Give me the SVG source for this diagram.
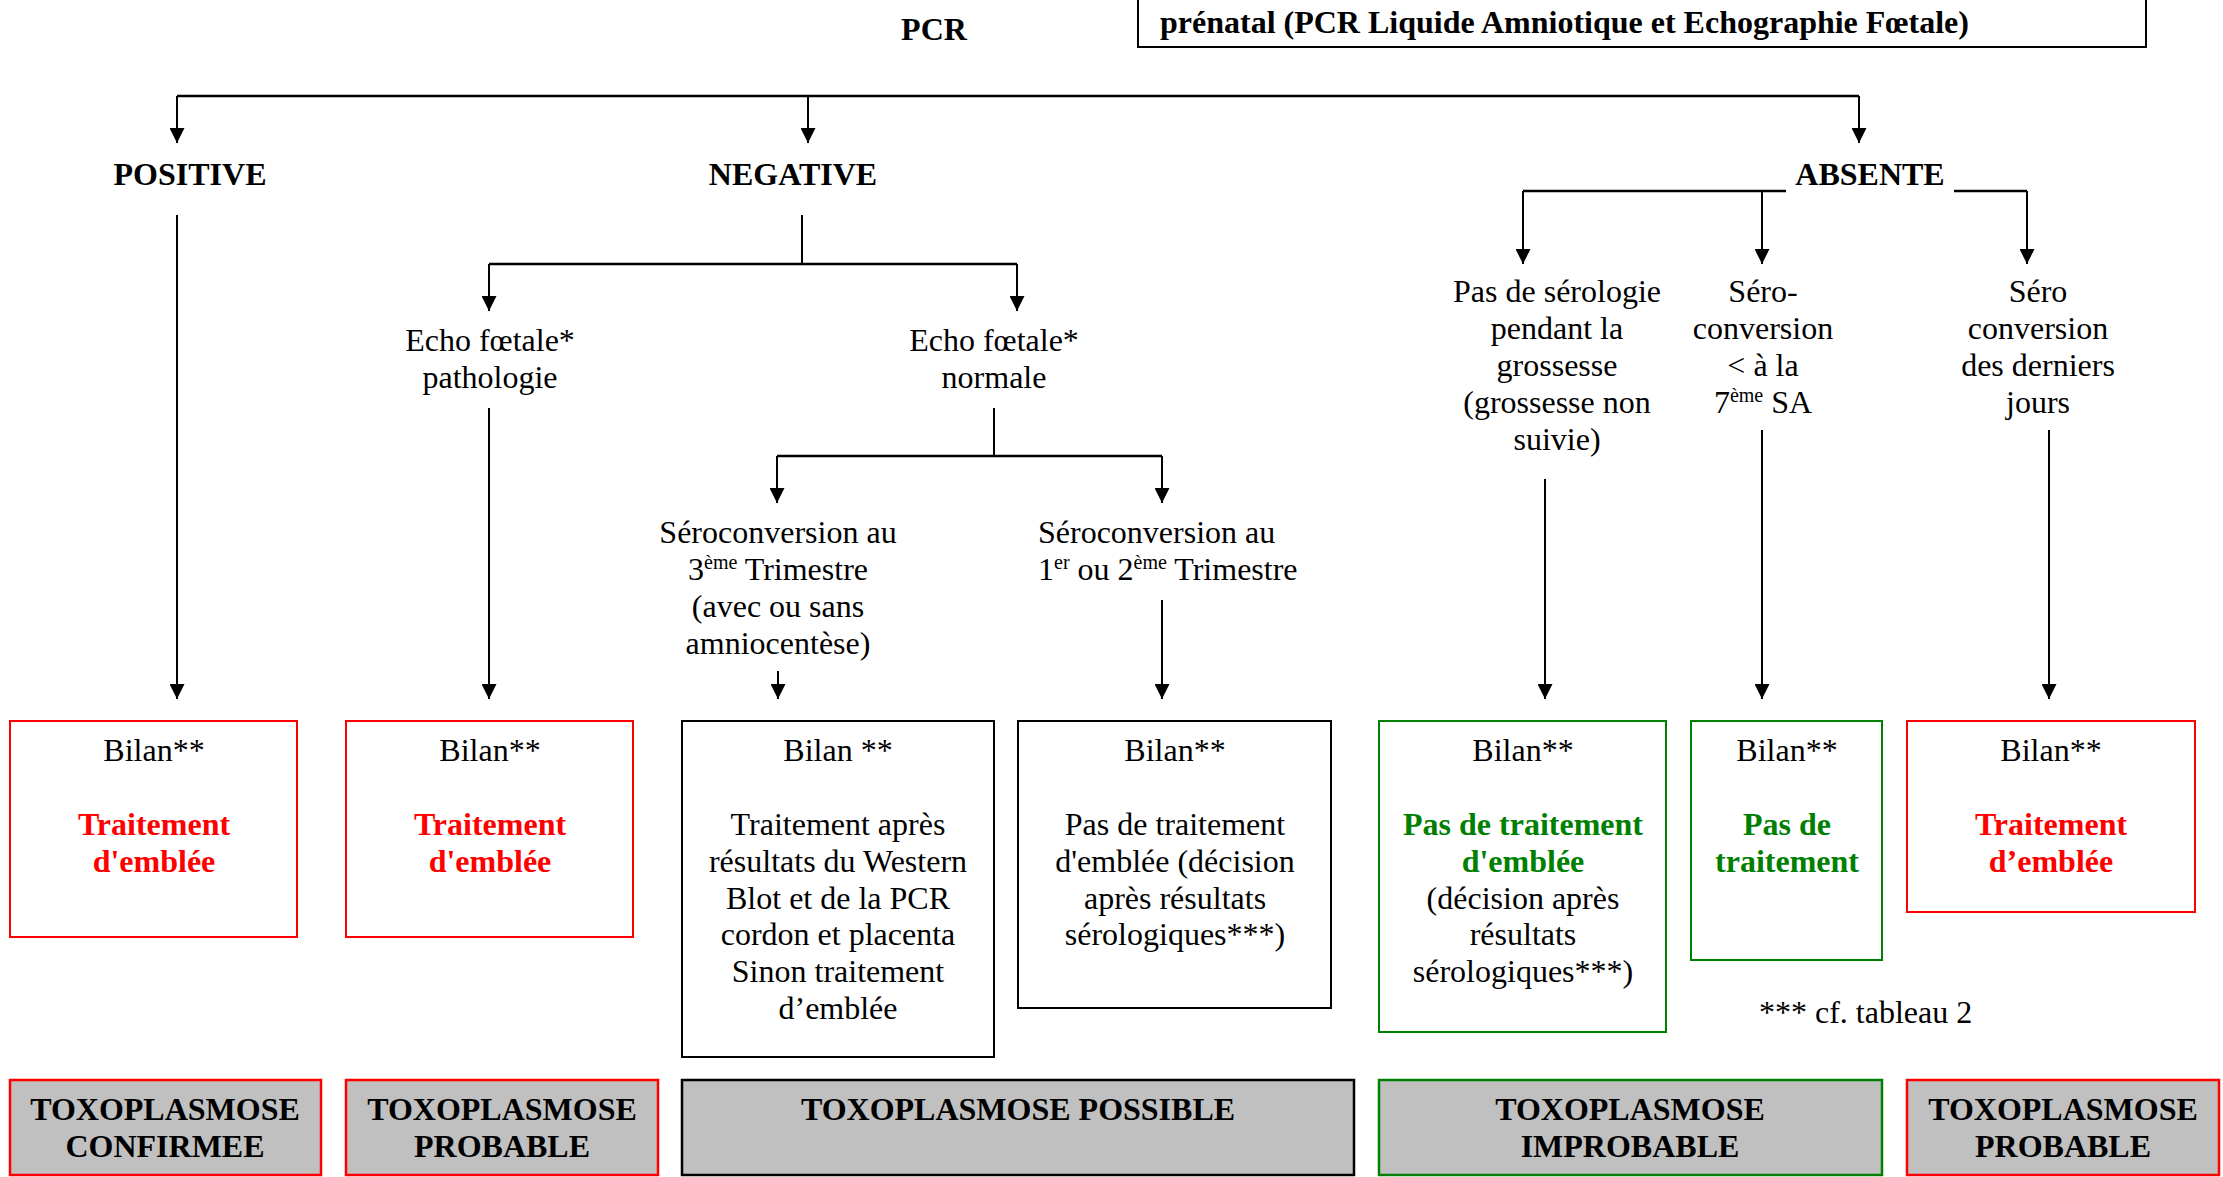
<svg xmlns="http://www.w3.org/2000/svg" width="2223" height="1177" viewBox="0 0 2223 1177">
  <style>
    text { font-family: "Liberation Serif", "Times New Roman", serif; font-size: 32px; fill: #000; }
    .c { text-anchor: middle; }
    .b { font-weight: bold; }
    .red { fill: #FF0000; }
    .grn { fill: #008000; }
    .sup { font-size: 20px; }
    .box { fill: #FFFFFF; stroke-width: 2; }
    .res { fill: #C0C0C0; stroke-width: 2.5; }
    .kR { stroke: #FF0000; }
    .kG { stroke: #008000; }
    .kK { stroke: #000000; }
    .ln { fill: none; stroke: #000; stroke-width: 2; }
    .hz { fill: none; stroke: #000; stroke-width: 2.5; }
  </style>
  <defs>
    <marker id="ah" viewBox="0 0 15 15" refX="15" refY="7.5" markerWidth="15" markerHeight="15" markerUnits="userSpaceOnUse" orient="auto">
      <path d="M0,0 L15,7.5 L0,15 z" fill="#000"/>
    </marker>
  </defs>
  <rect width="2223" height="1177" fill="#FFFFFF"/>

  <!-- title and header box -->
  <g id="pcr">
    <text class="c b" x="934" y="40">PCR</text>
  </g>
  <g id="header">
    <rect class="box kK" x="1138" y="-10" width="1008" height="57"/>
    <text class="b" x="1160" y="33">prénatal (PCR Liquide Amniotique et Echographie Fœtale)</text>
  </g>

  <!-- first-level results -->
  <g id="positive"><text class="c b" x="190" y="185">POSITIVE</text></g>
  <g id="negative"><text class="c b" x="793" y="185">NEGATIVE</text></g>
  <g id="absente"><text class="c b" x="1870" y="185">ABSENTE</text></g>

  <!-- ultrasound findings -->
  <g id="echo-patho">
    <text class="c" x="490" y="351">Echo fœtale*</text>
    <text class="c" x="490" y="388">pathologie</text>
  </g>
  <g id="echo-normale">
    <text class="c" x="994" y="351">Echo fœtale*</text>
    <text class="c" x="994" y="388">normale</text>
  </g>

  <!-- timing of seroconversion -->
  <g id="sero-t3">
    <text class="c" x="778" y="543">Séroconversion au</text>
    <text class="c" x="778" y="580">3<tspan class="sup" dy="-11">ème</tspan><tspan dy="11"> Trimestre</tspan></text>
    <text class="c" x="778" y="617">(avec ou sans</text>
    <text class="c" x="778" y="654">amniocentèse)</text>
  </g>
  <g id="sero-t12">
    <text x="1038" y="543">Séroconversion au</text>
    <text x="1038" y="580">1<tspan class="sup" dy="-11">er</tspan><tspan dy="11"> ou 2</tspan><tspan class="sup" dy="-11">ème</tspan><tspan dy="11"> Trimestre</tspan></text>
  </g>
  <g id="pas-serologie">
    <text class="c" x="1557" y="302">Pas de sérologie</text>
    <text class="c" x="1557" y="339">pendant la</text>
    <text class="c" x="1557" y="376">grossesse</text>
    <text class="c" x="1557" y="413">(grossesse non</text>
    <text class="c" x="1557" y="450">suivie)</text>
  </g>
  <g id="sero-7sa">
    <text class="c" x="1763" y="302">Séro-</text>
    <text class="c" x="1763" y="339">conversion</text>
    <text class="c" x="1763" y="376">&lt; à la</text>
    <text class="c" x="1763" y="413">7<tspan class="sup" dy="-11">ème</tspan><tspan dy="11"> SA</tspan></text>
  </g>
  <g id="sero-derniers">
    <text class="c" x="2038" y="302">Séro</text>
    <text class="c" x="2038" y="339">conversion</text>
    <text class="c" x="2038" y="376">des derniers</text>
    <text class="c" x="2038" y="413">jours</text>
  </g>

  <!-- work-up boxes -->
  <g id="bilan-1">
    <rect class="box kR" x="10" y="721" width="287" height="216"/>
    <text class="c" x="154" y="761">Bilan**</text>
    <text class="c b red" x="154" y="835">Traitement</text>
    <text class="c b red" x="154" y="872">d'emblée</text>
  </g>
  <g id="bilan-2">
    <rect class="box kR" x="346" y="721" width="287" height="216"/>
    <text class="c" x="490" y="761">Bilan**</text>
    <text class="c b red" x="490" y="835">Traitement</text>
    <text class="c b red" x="490" y="872">d'emblée</text>
  </g>
  <g id="bilan-3">
    <rect class="box kK" x="682" y="721" width="312" height="336"/>
    <text class="c" x="838" y="761">Bilan **</text>
    <text class="c" x="838" y="835">Traitement après</text>
    <text class="c" x="838" y="872">résultats du Western</text>
    <text class="c" x="838" y="909">Blot et de la PCR</text>
    <text class="c" x="838" y="945">cordon et placenta</text>
    <text class="c" x="838" y="982">Sinon traitement</text>
    <text class="c" x="838" y="1019">d’emblée</text>
  </g>
  <g id="bilan-4">
    <rect class="box kK" x="1018" y="721" width="313" height="287"/>
    <text class="c" x="1175" y="761">Bilan**</text>
    <text class="c" x="1175" y="835">Pas de traitement</text>
    <text class="c" x="1175" y="872">d'emblée (décision</text>
    <text class="c" x="1175" y="909">après résultats</text>
    <text class="c" x="1175" y="945">sérologiques***)</text>
  </g>
  <g id="bilan-5">
    <rect class="box kG" x="1379" y="721" width="287" height="311"/>
    <text class="c" x="1523" y="761">Bilan**</text>
    <text class="c b grn" x="1523" y="835">Pas de traitement</text>
    <text class="c b grn" x="1523" y="872">d'emblée</text>
    <text class="c" x="1523" y="909">(décision après</text>
    <text class="c" x="1523" y="945">résultats</text>
    <text class="c" x="1523" y="982">sérologiques***)</text>
  </g>
  <g id="bilan-6">
    <rect class="box kG" x="1691" y="721" width="191" height="239"/>
    <text class="c" x="1787" y="761">Bilan**</text>
    <text class="c b grn" x="1787" y="835">Pas de</text>
    <text class="c b grn" x="1787" y="872">traitement</text>
  </g>
  <g id="bilan-7">
    <rect class="box kR" x="1907" y="721" width="288" height="191"/>
    <text class="c" x="2051" y="761">Bilan**</text>
    <text class="c b red" x="2051" y="835">Traitement</text>
    <text class="c b red" x="2051" y="872">d’emblée</text>
  </g>
  <g id="footnote">
    <text x="1759" y="1023">*** cf. tableau 2</text>
  </g>

  <!-- conclusion bar -->
  <g id="conclusion-confirmee">
    <rect class="res kR" x="10" y="1080" width="311" height="95"/>
    <text class="c b" x="165" y="1120">TOXOPLASMOSE</text>
    <text class="c b" x="165" y="1157">CONFIRMEE</text>
  </g>
  <g id="conclusion-probable-1">
    <rect class="res kR" x="346" y="1080" width="312" height="95"/>
    <text class="c b" x="502" y="1120">TOXOPLASMOSE</text>
    <text class="c b" x="502" y="1157">PROBABLE</text>
  </g>
  <g id="conclusion-possible">
    <rect class="res kK" x="682" y="1080" width="672" height="95"/>
    <text class="c b" x="1018" y="1120">TOXOPLASMOSE POSSIBLE</text>
  </g>
  <g id="conclusion-improbable">
    <rect class="res kG" x="1379" y="1080" width="503" height="95"/>
    <text class="c b" x="1630" y="1120">TOXOPLASMOSE</text>
    <text class="c b" x="1630" y="1157">IMPROBABLE</text>
  </g>
  <g id="conclusion-probable-2">
    <rect class="res kR" x="1907" y="1080" width="312" height="95"/>
    <text class="c b" x="2063" y="1120">TOXOPLASMOSE</text>
    <text class="c b" x="2063" y="1157">PROBABLE</text>
  </g>

  <!-- connectors -->
  <g id="connectors">
    <path class="hz" d="M177,96 H1859"/>
    <path class="ln" d="M177,96 V143" marker-end="url(#ah)"/>
    <path class="ln" d="M808,96 V143" marker-end="url(#ah)"/>
    <path class="ln" d="M1859,96 V143" marker-end="url(#ah)"/>

    <path class="ln" d="M177,215 V699" marker-end="url(#ah)"/>

    <path class="ln" d="M802,215 V264"/>
    <path class="hz" d="M489,264 H1017"/>
    <path class="ln" d="M489,264 V311" marker-end="url(#ah)"/>
    <path class="ln" d="M1017,264 V311" marker-end="url(#ah)"/>

    <path class="ln" d="M489,408 V699" marker-end="url(#ah)"/>

    <path class="ln" d="M994,408 V456"/>
    <path class="hz" d="M777,456 H1162"/>
    <path class="ln" d="M777,456 V503" marker-end="url(#ah)"/>
    <path class="ln" d="M1162,456 V503" marker-end="url(#ah)"/>

    <path class="ln" d="M778,671 V699" marker-end="url(#ah)"/>
    <path class="ln" d="M1162,600 V699" marker-end="url(#ah)"/>

    <path class="hz" d="M1523,191 H1786"/>
    <path class="hz" d="M1954,191 H2027"/>
    <path class="ln" d="M1523,191 V264" marker-end="url(#ah)"/>
    <path class="ln" d="M1762,191 V264" marker-end="url(#ah)"/>
    <path class="ln" d="M2027,191 V264" marker-end="url(#ah)"/>

    <path class="ln" d="M1545,479 V699" marker-end="url(#ah)"/>
    <path class="ln" d="M1762,430 V699" marker-end="url(#ah)"/>
    <path class="ln" d="M2049,430 V699" marker-end="url(#ah)"/>
  </g>
</svg>
